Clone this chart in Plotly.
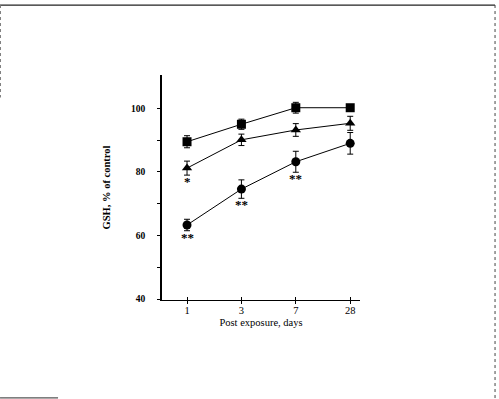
import plotly.graph_objects as go

# Days after exposure (categorical x positions)
days = ["1", "3", "7", "28"]

# GSH levels, % of control, with SEM
gsh_square = [89.5, 95.0, 100.2, 100.2]
err_square = [1.9, 1.6, 1.7, 1.0]

gsh_triangle = [81.2, 90.1, 93.2, 95.3]
err_triangle = [2.2, 1.8, 2.0, 2.2]

gsh_circle = [63.3, 74.6, 83.2, 89.0]
err_circle = [1.8, 2.9, 3.3, 3.4]

# significance marks under selected points
sig_circle = ["**", "**", "**", ""]
sig_triangle = ["*", "", "", ""]

y_ticks = [40, 50, 60, 70, 80, 90, 100]
y_labels = ["40", "", "60", "", "80", "", "100"]

xpos = list(range(len(days)))

fig = go.Figure()


def add_series(vals, errs, symbol):
    fig.add_trace(go.Scatter(
        x=xpos, y=vals,
        mode="lines+markers",
        line=dict(color="black", width=1),
        marker=dict(symbol=symbol, size=9, color="black"),
        error_y=dict(type="data", array=errs, visible=True,
                     color="black", thickness=1, width=3),
        showlegend=False,
    ))


add_series(gsh_square, err_square, "square")
add_series(gsh_triangle, err_triangle, "triangle-up")
add_series(gsh_circle, err_circle, "circle")

serif = "Liberation Serif"

# asterisks beneath the lower error whiskers
for vals, errs, sigs in [(gsh_circle, err_circle, sig_circle),
                         (gsh_triangle, err_triangle, sig_triangle)]:
    for i, s in enumerate(sigs):
        if s:
            fig.add_annotation(
                x=xpos[i], y=vals[i] - errs[i], text="<b>" + s + "</b>",
                showarrow=False, yanchor="top", xanchor="center",
                yshift=3,
                font=dict(family=serif, size=13, color="black"),
            )

# outer frame around the figure
fig.add_shape(type="line", xref="paper", yref="paper",
              line=dict(color="#222", width=1.2),
              x0=-0.818, x1=1.682, y0=1.311, y1=1.311)
fig.add_shape(type="line", xref="paper", yref="paper",
              line=dict(color="#444", width=1, dash="dot"),
              x0=1.682, x1=1.682, y0=1.311, y1=-0.44)
fig.add_shape(type="line", xref="paper", yref="paper",
              line=dict(color="#777", width=1, dash="dot"),
              x0=-0.816, x1=-0.816, y0=1.311, y1=0.90)
fig.add_shape(type="line", xref="paper", yref="paper",
              line=dict(color="#555", width=1.2),
              x0=-0.818, x1=-0.525, y0=-0.435, y1=-0.435)

fig.update_layout(
    width=499, height=399,
    margin=dict(l=162, r=139, t=75, b=99),
    paper_bgcolor="white", plot_bgcolor="white",
    font=dict(family=serif, color="black"),
    xaxis=dict(
        range=[-0.46, 3.18],
        tickmode="array", tickvals=xpos, ticktext=days,
        ticks="inside", ticklen=3, tickcolor="black", tickwidth=1,
        showline=True, linecolor="black", linewidth=1,
        showgrid=False, zeroline=False,
        tickfont=dict(family=serif, size=10.5, color="black"),
        title=dict(text="Post exposure, days", standoff=4,
                   font=dict(family=serif, size=10.5, color="black")),
    ),
    xaxis2=dict(
        overlaying="x", matches="x", side="bottom",
        tickmode="array", tickvals=xpos, ticktext=["", "", "", ""],
        ticks="outside", ticklen=3, tickcolor="black", tickwidth=1,
        showgrid=False, zeroline=False, showline=False,
    ),
    yaxis=dict(
        range=[39.7, 110.5],
        tickmode="array", tickvals=y_ticks, ticktext=y_labels,
        ticks="outside", ticklen=3, tickcolor="black", tickwidth=1,
        ticklabelstandoff=10,
        showline=True, linecolor="black", linewidth=1.5,
        showgrid=False, zeroline=False,
        tickfont=dict(family=serif, size=9.5, color="black", weight="bold"),
        title=dict(text="<b>GSH, % of control</b>", standoff=18,
                   font=dict(family=serif, size=10.5, color="black")),
    ),
)

# empty trace so the overlay axis draws its outward x ticks
fig.add_trace(go.Scatter(x=[None], y=[None], xaxis="x2", showlegend=False,
                         hoverinfo="skip"))

fig.write_html("out.html")
